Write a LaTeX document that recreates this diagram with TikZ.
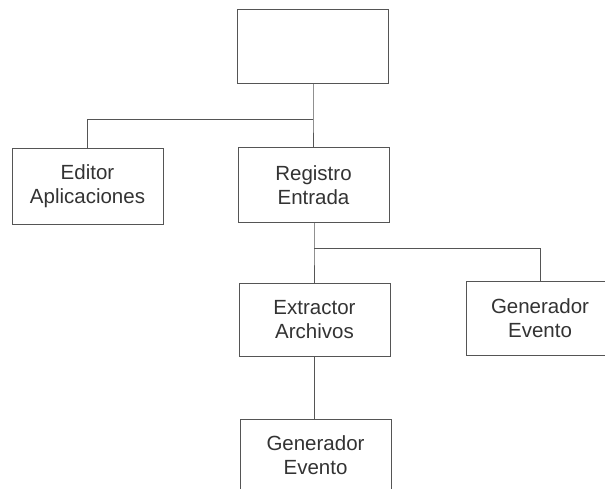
\documentclass[tikz,border=0pt]{standalone}
\usepackage{fontspec}
\setmainfont{Liberation Sans}
\definecolor{linegray}{HTML}{555555}
\definecolor{textgray}{HTML}{333333}
\begin{document}
\begin{tikzpicture}[x=1pt,y=-1pt,
  modbox/.style={draw=linegray, line width=0.9pt, fill=white, minimum width=151pt,
    minimum height=75pt, align=center, text=textgray,
    font=\fontsize{20.5pt}{24pt}\selectfont},
  link/.style={draw=linegray, line width=0.9pt}]
  \useasboundingbox (0,0) rectangle (605,489);
  \clip (0,0) rectangle (605,489);
  % module boxes
  \node[modbox, minimum height=74pt] (top) at (312.5,46) {};
  \node[modbox, minimum height=76pt] (editor) at (87.5,186) {Editor\\Aplicaciones};
  \node[modbox] (registro) at (313.5,185) {Registro\\Entrada};
  \node[modbox, minimum height=73pt] (extractor) at (314.5,320) {Extractor\\Archivos};
  \node[modbox, minimum width=148pt, minimum height=74pt] (genA) at (540,318) {Generador\\Evento};
  \node[modbox, minimum height=73pt] (genB) at (315.5,455.5) {Generador\\Evento};
  % junction points
  \coordinate (j1) at (313,119);
  \coordinate (j2) at (314,248);
  % connectors
  \draw[link] (top.south -| j1) -- (j1) -- (j1 |- registro.north);
  \draw[link] (j1) -| (editor.north);
  \draw[link] (j2 |- registro.south) -- (j2) -- (j2 |- extractor.north);
  \draw[link] (j2) -| (genA.north);
  \draw[link] (extractor.south) -- (extractor.south |- genB.north);
\end{tikzpicture}
\end{document}
